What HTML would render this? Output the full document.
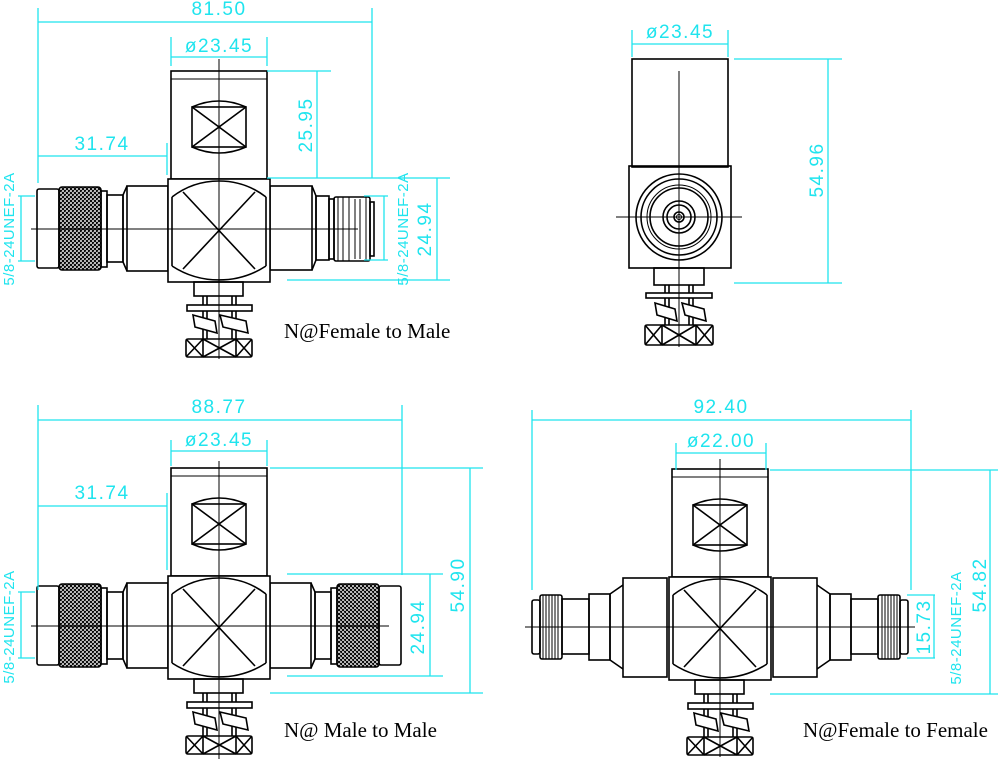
<!DOCTYPE html>
<html><head><meta charset="utf-8"><style>
html,body{margin:0;padding:0;background:#fff}
svg{display:block}
.k{stroke:#000;stroke-width:1.6}
.t{fill:none;stroke:#000;stroke-width:1}
.c{fill:none;stroke:#1fe4ee;stroke-width:1.3}
.d{fill:#1fe4ee;font-family:"Liberation Sans",sans-serif;font-size:19px;letter-spacing:1.5px}
.l{font-family:"Liberation Serif",serif;font-size:21px;fill:#000}
</style></head><body>
<svg width="1000" height="762" viewBox="0 0 1000 762" xmlns="http://www.w3.org/2000/svg">
<defs>
<pattern id="kn" width="4" height="4" patternUnits="userSpaceOnUse">
<rect width="4" height="4" fill="#fff"/>
<path d="M0,0L4,4M4,0L0,4M-1,3L1,5M3,-1L5,1M-1,1L1,-1M3,5L5,3" stroke="#000" stroke-width="1.1"/>
</pattern>
<g id="core">
<rect class="k" x="-48" y="-158" width="96" height="108" style="fill:#fff"/>
<line class="t" x1="-48" y1="-150" x2="48" y2="-150"/>
<rect class="k" x="-27" y="-122" width="54" height="40" style="fill:none"/>
<path class="k" style="fill:none" d="M-27,-122Q0,-134 27,-122M-27,-82Q0,-70 27,-82M-27,-122L27,-82M27,-122L-27,-82"/>
<rect class="k" x="-51" y="-50" width="102" height="103" style="fill:#fff"/>
<path class="k" style="fill:none" d="M-47,-32A77,77 0 0 1 47,-32M-47,37A86,86 0 0 0 47,37M-47,-32V37M47,-32V37M-36,-37L36,40M36,-37L-36,40"/>
<rect class="k" x="-25" y="53" width="49" height="14" style="fill:none"/>
<path class="k" d="M-16,67V110M-12,67V110M13,67V110M17,67V110"/>
<rect class="k" x="-32" y="76" width="65" height="6" style="fill:#fff"/>
<path class="k" style="fill:#fff" d="M-26,86L-4,92L-2,104L-24,98Z M1,86L27,92L29,104L4,98Z"/>
<rect class="k" x="-33" y="110" width="66" height="18" rx="2" style="fill:#fff"/>
<path class="k" d="M-16,110V128M17,110V128M-33,110L-16,128M-16,110L-33,128M-16,110L17,128M17,110L-16,128M17,110L33,128M33,110L17,128"/>
</g>
<g id="maleL">
<rect class="k" x="-92" y="-43" width="41" height="85" style="fill:none"/>
<path class="k" style="fill:none" d="M-92,-43L-96,-34V33L-92,42"/>
<rect class="k" x="-112" y="-34" width="16" height="67" style="fill:none"/>
<rect class="k" x="-118" y="-38" width="6" height="76" style="fill:none"/>
<rect class="k" x="-160" y="-42" width="42" height="83" rx="3" style="fill:url(#kn)"/>
<rect class="k" x="-182" y="-40" width="22" height="79" rx="2" style="fill:none"/>
</g>
<g id="femR">
<rect class="k" x="51" y="-43" width="42" height="84" style="fill:none"/>
<path class="k" style="fill:none" d="M93,-43L97,-33V31L93,41"/>
<rect class="k" x="97" y="-33" width="13" height="64" style="fill:none"/>
<rect class="k" x="110" y="-30" width="5" height="60" style="fill:none"/>
<rect class="k" x="115" y="-32" width="36" height="64" rx="2" style="fill:none"/>
<path class="t" d="M119,-32V32M124,-32V32M130,-32V32M136,-30V30M141,-30V30M147,-32V32"/>
<rect class="k" x="151" y="-27" width="4" height="54" style="fill:none"/>
</g>
<g id="femBR">
<rect class="k" x="-97" y="-49" width="44" height="99" style="fill:none"/>
<path class="k" style="fill:none" d="M-97,-42L-110,-33V33L-97,42"/>
<rect class="k" x="-131" y="-33" width="21" height="66" style="fill:none"/>
<rect class="k" x="-158" y="-28" width="27" height="55" style="fill:none"/>
<rect class="k" x="-180" y="-32" width="22" height="64" rx="2" style="fill:none"/>
<path class="t" d="M-177,-32V32M-174,-32V32M-171,-32V32M-168,-32V32M-165,-32V32M-162,-32V32"/>
<rect class="k" x="-188" y="-27" width="8" height="54" rx="2" style="fill:none"/>
</g>
</defs>

<g transform="translate(219,229)">
<use href="#maleL"/>
<use href="#femR"/>
<use href="#core"/>
<path class="t" d="M-188,0H139M0,-170V130" stroke-width="1.5"/>
</g>
<g transform="translate(219,626)">
<use href="#maleL"/>
<use href="#maleL" transform="scale(-1,1)"/>
<use href="#core"/>
<path class="t" d="M-188,0H170M0,-165V133" stroke-width="1.5"/>
</g>
<g transform="translate(720,627)">
<use href="#femBR"/>
<use href="#femBR" transform="scale(-1,1)"/>
<use href="#core"/>
<path class="t" d="M-195,0H195M0,-168V130" stroke-width="1.5"/>
</g>
<g transform="translate(679,217)">
<rect class="k" x="-47" y="-158" width="96" height="108" style="fill:none"/>
<rect class="k" x="-50" y="-51" width="102" height="102" style="fill:none"/>
<g style="fill:none">
<circle class="k" cx="0" cy="0" r="43"/>
<circle class="k" cx="0" cy="0" r="38"/>
<circle class="t" cx="0" cy="0" r="32"/>
<circle class="k" cx="0" cy="0" r="29"/>
<circle class="k" cx="0" cy="0" r="16"/>
<circle class="k" cx="0" cy="0" r="12"/>
<circle class="k" cx="0" cy="0" r="5"/>
<circle class="t" cx="0" cy="0" r="2.5"/>
</g>
<rect class="k" x="-25" y="51" width="50" height="17" style="fill:none"/>
<path class="k" d="M-14,68V110M-10,68V110M10,68V110M14,68V110"/>
<rect class="k" x="-33" y="76" width="66" height="5" style="fill:#fff"/>
<path class="k" style="fill:#fff" d="M-24,86L-4,92L-2,104L-22,98Z M3,86L25,92L27,104L6,98Z"/>
<rect class="k" x="-34" y="108" width="68" height="20" rx="2" style="fill:#fff"/>
<path class="k" d="M-17,108V128M17,108V128M-34,108L-17,128M-17,108L-34,128M-17,108L17,128M17,108L-17,128M17,108L34,128M34,108L17,128"/>
<path class="t" d="M-63,0H63M0,-146V130" stroke-width="1.5"/>
</g>

<path class="c" d="M38,8V183M372,8V178M38,22H372M171,37V66M267,37V66M171,57H267M267,71H331M267,178H450M317,71V178M167,143V175M38,156H167M437,178V280M287,280H450M18,196H35M18,261H35M21,196V261M364,196H388M364,260H388M384,196V260"/>
<text class="d" x="219" y="15" text-anchor="middle">81.50</text>
<text class="d" x="219" y="52" text-anchor="middle">ø23.45</text>
<text class="d" x="102" y="150" text-anchor="middle">31.74</text>
<text class="d" transform="translate(312,125) rotate(-90)" text-anchor="middle">25.95</text>
<text class="d" transform="translate(431,229) rotate(-90)" text-anchor="middle">24.94</text>
<text class="d" transform="translate(14,229) rotate(-90)" text-anchor="middle" style="font-size:15px;letter-spacing:0.5px">5/8-24UNEF-2A</text>
<text class="d" transform="translate(408,229) rotate(-90)" text-anchor="middle" style="font-size:15px;letter-spacing:0.5px">5/8-24UNEF-2A</text>
<text class="l" x="284" y="338">N@Female to Male</text>

<path class="c" d="M632,30V57M728,30V57M632,44H728M734,59H842M734,283H842M828,59V283"/>
<text class="d" x="680" y="38" text-anchor="middle">ø23.45</text>
<text class="d" transform="translate(823,170) rotate(-90)" text-anchor="middle">54.96</text>

<path class="c" d="M38,405V590M402,405V575M38,420H402M171,440V466M267,440V466M171,451H267M167,493V570M38,506H167M270,468H483M470,468V693M270,693H483M287,574H443M287,676H443M430,574V676M18,592H35M18,658H35M21,592V658"/>
<text class="d" x="219" y="413" text-anchor="middle">88.77</text>
<text class="d" x="219" y="446" text-anchor="middle">ø23.45</text>
<text class="d" x="102" y="499" text-anchor="middle">31.74</text>
<text class="d" transform="translate(464,585) rotate(-90)" text-anchor="middle">54.90</text>
<text class="d" transform="translate(424,627) rotate(-90)" text-anchor="middle">24.94</text>
<text class="d" transform="translate(14,627) rotate(-90)" text-anchor="middle" style="font-size:15px;letter-spacing:0.5px">5/8-24UNEF-2A</text>
<text class="l" x="284" y="737">N@ Male to Male</text>

<path class="c" d="M532,410V590M911,410V590M532,420H911M676,443V470M766,443V470M676,453H766M770,470H998M770,694H998M990,470V694M907,595H935M907,658H935M934,595V658"/>
<text class="d" x="721" y="413" text-anchor="middle">92.40</text>
<text class="d" x="721" y="447" text-anchor="middle">ø22.00</text>
<text class="d" transform="translate(986,585) rotate(-90)" text-anchor="middle">54.82</text>
<text class="d" transform="translate(930,627) rotate(-90)" text-anchor="middle">15.73</text>
<text class="d" transform="translate(961,628) rotate(-90)" text-anchor="middle" style="font-size:15px;letter-spacing:0.5px">5/8-24UNEF-2A</text>
<text class="l" x="803" y="737">N@Female to Female</text>
</svg>
</body></html>
